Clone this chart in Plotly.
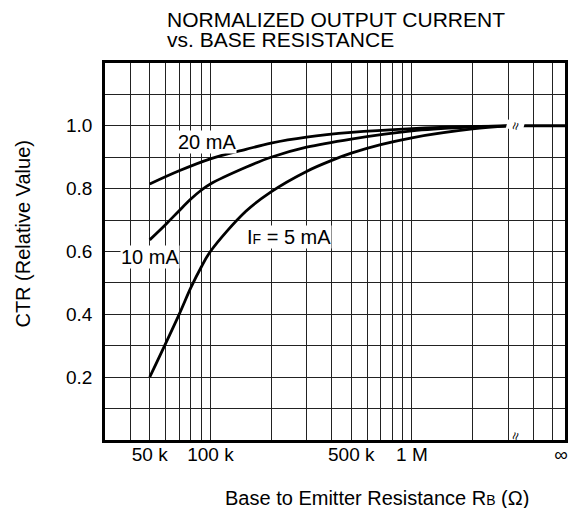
import math
import plotly.graph_objects as go

# ---- data ----
R_20MA = [50e3, 70e3, 100e3, 150e3, 200e3, 300e3, 500e3, 1e6, 2e6, 3e6]
CTR_20MA = [0.815, 0.857, 0.895, 0.925, 0.945, 0.964, 0.979, 0.991, 0.998, 1.0]
R_10MA = [50e3, 60e3, 70e3, 80e3, 90e3, 100e3, 150e3, 200e3, 300e3, 500e3, 1e6, 2e6, 3e6]
CTR_10MA = [0.637, 0.686, 0.730, 0.767, 0.795, 0.815, 0.868, 0.900, 0.932, 0.958, 0.984, 0.996, 1.0]
R_5MA = [50e3, 70e3, 80e3, 90e3, 100e3, 150e3, 200e3, 300e3, 400e3, 500e3, 700e3, 1e6, 2e6, 3e6]
CTR_5MA = [0.200, 0.400, 0.485, 0.550, 0.600, 0.728, 0.790, 0.855, 0.890, 0.913, 0.940, 0.962, 0.990, 1.0]

R_INF = 6.5e6          # "infinity" end of the flat tail (beyond right edge)
R_INF_LABEL = 5.5e6    # where the ∞ label sits
TAIL_R = [3e6, R_INF]
TAIL_CTR = [1.0, 1.0]

X_TICKS = [5e4, 1e5, 5e5, 1e6, R_INF_LABEL]
X_TICKTEXT = ["50 k", "100 k", "500 k", "1 M", "∞"]
X_GRID = [4e4, 5e4, 6e4, 7e4, 8e4, 9e4, 1e5, 2e5, 3e5, 4e5, 5e5, 6e5, 7e5, 8e5, 9e5, 1e6, 2e6, 3e6, 4e6, 5e6]
Y_TICKS = [0.2, 0.4, 0.6, 0.8, 1.0]
Y_TICKTEXT = ["0.2", "0.4", "0.6", "0.8", "1.0"]
Y_GRID = [0.1, 0.2, 0.3, 0.4, 0.5, 0.6, 0.7, 0.8, 0.9, 1.0, 1.1]

SMALL = '<span style="font-size:14px">{}</span>'
LABELS = [("20 mA", 96e3, 0.950), ("10 mA", 50e3, 0.583),
          ("I" + SMALL.format("F") + " = 5 mA", 245e3, 0.645)]
BREAK_R = 3.25e6

FONT = "Liberation Sans, Arial, sans-serif"
W, H = 580, 508
ML, MR, MT, MB = 105, 12, 63, 68
PW, PH = W - ML - MR, H - MT - MB


def pxx(px):
    return (px - ML) / PW


def pxy(py):
    return (H - MB - py) / PH


fig = go.Figure()
for xs, ys in ((R_20MA, CTR_20MA), (R_10MA, CTR_10MA), (R_5MA, CTR_5MA)):
    fig.add_trace(go.Scatter(x=xs, y=ys, mode="lines",
                             line=dict(color="black", width=2.8, shape="spline", smoothing=1.0),
                             showlegend=False, hoverinfo="skip"))
fig.add_trace(go.Scatter(x=TAIL_R, y=TAIL_CTR, mode="lines",
                         line=dict(color="black", width=3),
                         showlegend=False, hoverinfo="skip"))

annotations = []
for text, xr, yv in LABELS:
    annotations.append(dict(x=math.log10(xr), y=yv, xref="x", yref="y", text=text,
                            showarrow=False, font=dict(family=FONT, size=20, color="black"),
                            bgcolor="white", borderpad=0, xanchor="center", yanchor="middle"))

# axis break marks
annotations.append(dict(x=math.log10(BREAK_R), y=1.0, xref="x", yref="y", text="≈", textangle=-75,
                        showarrow=False, font=dict(family=FONT, size=14, color="black"),
                        bgcolor="white", borderpad=0))
annotations.append(dict(x=math.log10(BREAK_R), y=pxy(443), xref="x", yref="paper", text="≈", textangle=-75,
                        showarrow=False, font=dict(family=FONT, size=14, color="black"), borderpad=0))

# titles
annotations.append(dict(x=pxx(165), y=pxy(19.5), xref="paper", yref="paper",
                        text="NORMALIZED OUTPUT CURRENT", showarrow=False, xanchor="left", yanchor="middle",
                        font=dict(family=FONT, size=21, color="black")))
annotations.append(dict(x=pxx(165), y=pxy(39.5), xref="paper", yref="paper",
                        text="vs. BASE RESISTANCE", showarrow=False, xanchor="left", yanchor="middle",
                        font=dict(family=FONT, size=21, color="black")))
annotations.append(dict(x=pxx(22), y=pxy(234), xref="paper", yref="paper",
                        text="CTR (Relative Value)", showarrow=False, textangle=-90,
                        xanchor="center", yanchor="middle",
                        font=dict(family=FONT, size=20, color="black")))
annotations.append(dict(x=pxx(379), y=pxy(498), xref="paper", yref="paper",
                        text="Base to Emitter Resistance R" + SMALL.format("B") + " (Ω)", showarrow=False,
                        xanchor="center", yanchor="middle",
                        font=dict(family=FONT, size=20, color="black")))

fig.update_layout(
    width=W, height=H,
    margin=dict(l=ML, r=MR, t=MT, b=MB, pad=0),
    paper_bgcolor="white", plot_bgcolor="white",
    font=dict(family=FONT, color="black"),
    annotations=annotations,
    xaxis=dict(type="log", range=[math.log10(3e4), math.log10(5.75e6)],
               tickmode="array", tickvals=X_TICKS, ticktext=X_TICKTEXT,
               tickfont=dict(family=FONT, size=19, color="black"),
               showgrid=False, zeroline=False, ticks="", ticklen=0, ticklabelstandoff=-5,
               showline=True, linecolor="black", linewidth=2.5, mirror=True,
               minor=dict(tickmode="array", tickvals=X_GRID, showgrid=True,
                          gridcolor="#222", gridwidth=1, ticks="")),
    yaxis=dict(range=[0, 1.2],
               tickmode="array", tickvals=Y_TICKS, ticktext=Y_TICKTEXT,
               tickfont=dict(family=FONT, size=19, color="black"),
               showgrid=False, zeroline=False, ticks="", ticklen=0, ticklabelstandoff=6,
               showline=True, linecolor="black", linewidth=2.5, mirror=True,
               minor=dict(tickmode="array", tickvals=Y_GRID, showgrid=True,
                          gridcolor="#222", gridwidth=1, ticks="")),
)

fig.write_html("out.html", config={"displayModeBar": False},
               post_script="document.body.style.margin='0';document.body.style.padding='0';")
